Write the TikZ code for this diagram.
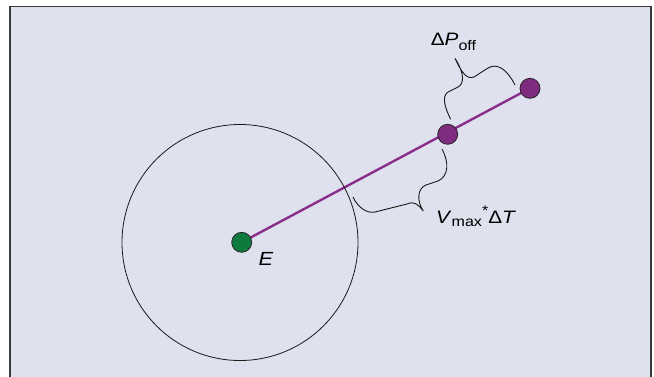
\documentclass[tikz,border=0pt]{standalone}
\usepackage{fontspec}
\setmainfont{Liberation Sans}
\newfontfamily\lblfont[FakeStretch=1.15]{Liberation Sans}
\definecolor{bgfill}{HTML}{DFE1EE}
\definecolor{framecol}{HTML}{3A3A3A}
\definecolor{plum}{HTML}{7E2B80}
\definecolor{plumline}{HTML}{8A2E8C}
\definecolor{egreen}{HTML}{0F7A3E}
\newcommand\lowsub[2]{\raisebox{-#1}{\fontsize{14}{16}\selectfont #2}}
\newcommand\highsup[1]{\raisebox{0.42em}{\fontsize{14}{16}\selectfont #1}}
\pgfdeclarelayer{backlayer}
\pgfdeclarelayer{linelayer}
\pgfsetlayers{backlayer,linelayer,main}
\begin{document}
\begin{tikzpicture}[x=1pt,y=-1pt,
  dot/.style={circle,draw=black!85,line width=0.8pt,minimum size=20pt,inner sep=0pt},
  lbl/.style={inner sep=0pt,anchor=base west,font=\lblfont\fontsize{18}{20}\selectfont},
  bracepath/.style={draw=black!90,line width=0.9pt},
  ring/.style={circle,draw=black!90,line width=0.8pt,minimum size=236pt,inner sep=0pt}]
\clip (0,0) rectangle (654,376);
\useasboundingbox (0,0) rectangle (654,376);
\begin{pgfonlayer}{backlayer}
\draw[fill=bgfill,draw=framecol,line width=1.5pt] (10,6.5) rectangle (651,420);
\end{pgfonlayer}
\node[ring] (range) at (240,242.5) {};
\node[dot,fill=egreen] (E) at (241.7,242.3) {};
\node[dot,fill=plum] (M) at (447.7,134.3) {};
\node[dot,fill=plum] (F) at (530,88.3) {};
\begin{pgfonlayer}{linelayer}
\draw[plumline,line width=2.4pt] (E.center) -- (F.center);
\end{pgfonlayer}
% braces
\draw[bracepath] (450.7,119.3) .. controls (444,106) and (442,96) .. (448,92)
  -- (458,87) .. controls (464,84) and (465,74) .. (455,58.3)
  .. controls (461,71) and (466,80) .. (474,77)
  -- (488,68) .. controls (498,62) and (508,71) .. (515,85);
\draw[bracepath] (442,149) .. controls (449,162) and (449,176) .. (438,181)
  -- (426,185) .. controls (418,188) and (416,200) .. (423.3,211)
  .. controls (418,204) and (414,201) .. (407,204)
  -- (375,212) .. controls (366,214) and (357,206) .. (353,197);
% labels
\node[lbl] (Poff) at (430.7,45) {Δ\textit{P}\lowsub{5pt}{off}};
\node[lbl] (Vmax) at (436,223.3) {\textit{V}\lowsub{3pt}{max}\highsup{*}Δ\textit{T}};
\node[lbl,font=\lblfont\fontsize{19}{21}\selectfont] (Elbl) at (258.5,265) {\textit{E}};
\end{tikzpicture}
\end{document}
